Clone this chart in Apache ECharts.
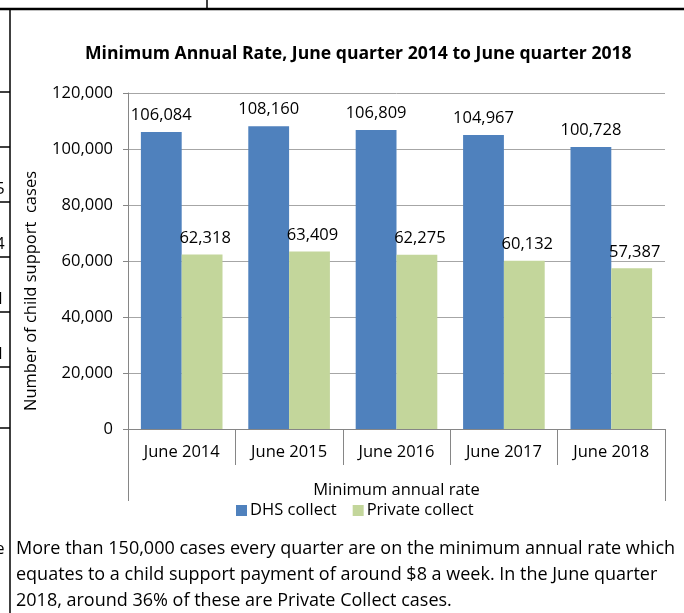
<!DOCTYPE html>
<html>
<head>
<meta charset="utf-8">
<script src="https://cdn.jsdelivr.net/npm/echarts@6/dist/echarts.min.js"></script>
<style>
  html, body { margin: 0; padding: 0; background: #fff; }
  #chart { width: 684px; height: 613px; }
</style>
</head>
<body>
<div id="chart"></div>
<script>
// 数据
const categories = ['June 2014', 'June 2015', 'June 2016', 'June 2017', 'June 2018'];
const dhsCollect = [106084, 108160, 106809, 104967, 100728];
const privateCollect = [62318, 63409, 62275, 60132, 57387];
const yTicks = { min: 0, max: 120000, interval: 20000 };
const groupLabel = ['Minimum annual rate'];
const noteLines = [
  'More than 150,000 cases every quarter are on the minimum annual rate which',
  'equates to a child support payment of around $8 a week. In the June quarter',
  '2018, around 36% of these are Private Collect cases.'
];

const FONT = 'Open Sans';
const FS = 16.5;
const fmt = v => v.toLocaleString('en-US');

// background table fragments behind the chart
const frame = [
  { type: 'line', shape: { x1: 0, y1: 9, x2: 684, y2: 9 }, style: { stroke: '#000', lineWidth: 2.5 } },
  { type: 'line', shape: { x1: 207, y1: 0, x2: 207, y2: 9 }, style: { stroke: '#000', lineWidth: 1.5 } },
  { type: 'line', shape: { x1: 10, y1: 9, x2: 10, y2: 613 }, style: { stroke: '#000', lineWidth: 1.5 } }
];
[92, 147, 202, 257, 312, 367, 428].forEach(y => {
  frame.push({ type: 'line', shape: { x1: 0, y1: y, x2: 10, y2: y }, style: { stroke: '#000', lineWidth: 1.5 } });
});
[['5', 189], ['4', 244], ['1', 299], ['1', 354], ['e', 549]].forEach(([t, y]) => {
  frame.push({ type: 'text', x: 0, y: y, style: { text: t, font: '16px "' + FONT + '"', fill: '#000', align: 'center', verticalAlign: 'middle' } });
});
noteLines.forEach((t, i) => {
  frame.push({ type: 'text', x: 16, y: 549 + i * 26, style: { text: t, font: '18px "' + FONT + '"', fill: '#000', verticalAlign: 'middle' } });
});

const myChart = echarts.init(document.getElementById('chart'));
myChart.setOption({
  animation: false,
  textStyle: { fontFamily: FONT, color: '#000' },
  title: {
    text: 'Minimum Annual Rate, June quarter 2014 to June quarter 2018',
    left: 80,
    top: 40,
    textStyle: { fontSize: 17.6, fontWeight: 'bold', color: '#000', fontFamily: FONT }
  },
  legend: {
    data: ['DHS collect', 'Private collect'],
    left: 231,
    top: 497,
    icon: 'rect',
    itemWidth: 11,
    itemHeight: 11,
    itemGap: 16,
    textStyle: { fontSize: FS, color: '#000', padding: [0, 0, 0, -2] }
  },
  grid: { left: 128, right: 19, top: 93, bottom: 184 },
  xAxis: [
    {
      type: 'category',
      data: categories,
      axisLine: { show: true, lineStyle: { color: '#868686' } },
      axisTick: { show: true, length: 36, interval: 0, lineStyle: { color: '#868686' } },
      axisLabel: { fontSize: FS, color: '#000', margin: 15, interval: 0 }
    },
    {
      type: 'category',
      data: groupLabel,
      position: 'bottom',
      axisLine: { show: false },
      axisTick: { show: true, length: 72, lineStyle: { color: '#868686' } },
      axisLabel: { fontSize: FS, color: '#000', margin: 53 }
    }
  ],
  yAxis: {
    type: 'value',
    min: yTicks.min,
    max: yTicks.max,
    interval: yTicks.interval,
    name: 'Number of child support  cases',
    nameLocation: 'middle',
    nameRotate: 90,
    nameGap: 88,
    nameTextStyle: { fontSize: FS, color: '#000', padding: [0, 60, 0, 0] },
    axisLine: { show: true, lineStyle: { color: '#868686' } },
    axisTick: { show: true, length: 5, lineStyle: { color: '#868686' } },
    axisLabel: { fontSize: FS, color: '#000', margin: 15, formatter: fmt },
    splitLine: { lineStyle: { color: '#A6A6A6' } }
  },
  series: [
    {
      name: 'DHS collect',
      type: 'bar',
      data: dhsCollect,
      barGap: '0%',
      barCategoryGap: '24%',
      itemStyle: { color: '#4F81BD' },
      label: { show: true, position: 'top', distance: 8, fontSize: FS, color: '#000', formatter: p => fmt(p.value) }
    },
    {
      name: 'Private collect',
      type: 'bar',
      data: privateCollect,
      itemStyle: { color: '#C3D69B' },
      label: { show: true, position: 'top', distance: 8, offset: [3, 0], fontSize: FS, color: '#000', formatter: p => fmt(p.value) }
    }
  ],
  graphic: frame
});
</script>
</body>
</html>
